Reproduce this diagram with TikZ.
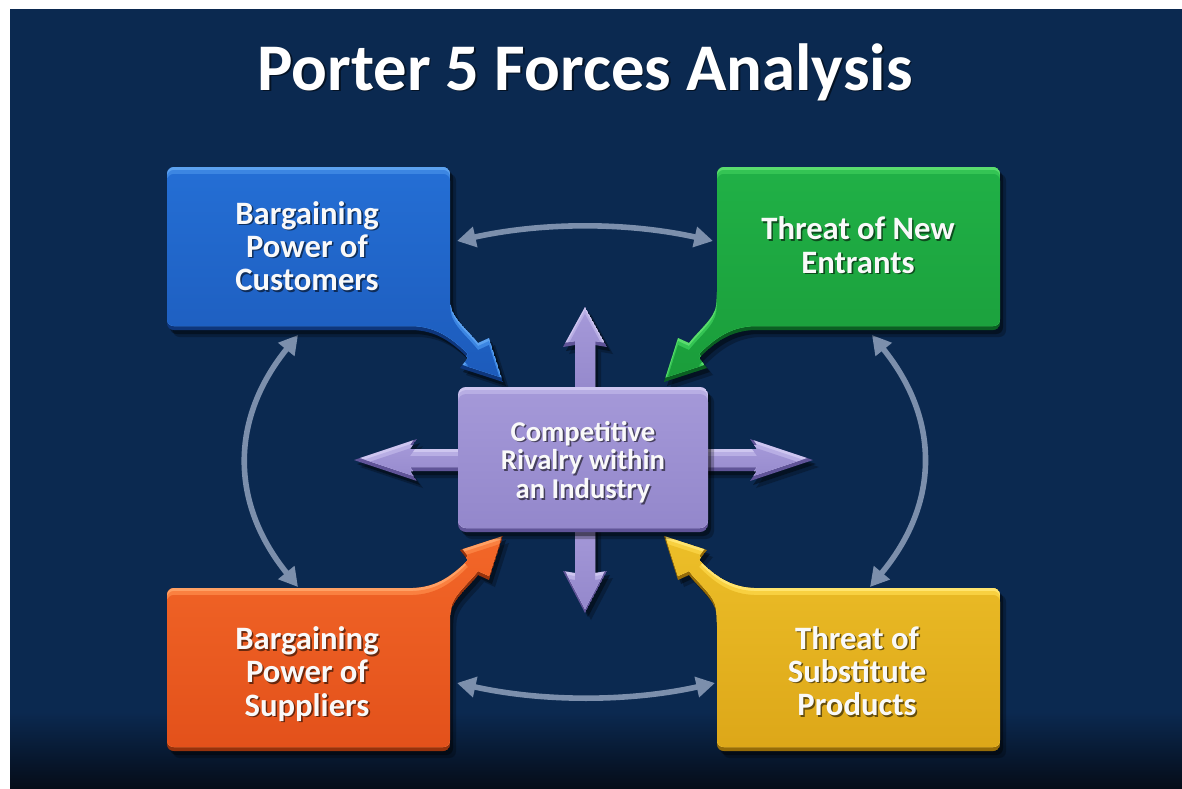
\documentclass[tikz,border=0pt]{standalone}
\usepackage{fontspec}
\setmainfont{Carlito}
\usetikzlibrary{arrows.meta}

% background and connector colours
\definecolor{bgnavy}{RGB}{11,41,80}
\definecolor{bgdeep}{RGB}{5,12,24}
\definecolor{linkgray}{RGB}{124,143,172}
% palettes: hi/mid = upper bevel, top/bot = body shading, rim = lower bevel
\definecolor{bluehi}{RGB}{92,162,240}
\definecolor{bluemid}{RGB}{60,134,226}
\definecolor{bluetop}{RGB}{36,110,212}
\definecolor{bluebot}{RGB}{28,90,186}
\definecolor{bluerim}{RGB}{14,54,124}
\definecolor{greenhi}{RGB}{90,220,110}
\definecolor{greenmid}{RGB}{52,196,84}
\definecolor{greentop}{RGB}{32,176,70}
\definecolor{greenbot}{RGB}{26,156,58}
\definecolor{greenrim}{RGB}{10,96,34}
\definecolor{orangehi}{RGB}{255,160,100}
\definecolor{orangemid}{RGB}{250,128,64}
\definecolor{orangetop}{RGB}{242,102,40}
\definecolor{orangebot}{RGB}{226,80,26}
\definecolor{orangerim}{RGB}{150,50,12}
\definecolor{yellowhi}{RGB}{255,228,110}
\definecolor{yellowmid}{RGB}{248,208,64}
\definecolor{yellowtop}{RGB}{236,190,40}
\definecolor{yellowbot}{RGB}{220,166,24}
\definecolor{yellowrim}{RGB}{150,108,8}
\definecolor{purplehi}{RGB}{206,198,240}
\definecolor{purplemid}{RGB}{184,174,228}
\definecolor{purpletop}{RGB}{164,152,216}
\definecolor{purplebot}{RGB}{146,134,202}
\definecolor{purplerim}{RGB}{96,84,152}

% point of a callout in local coordinates measured from its inner corner:
% a runs towards the centre horizontally, b towards the centre vertically
\def\cpt(#1,#2){({\cox+(\csx)*(#1)},{\coy+(\csy)*(#2)})}
\def\calloutpath{\cpt(-140,-163) [rounded corners=5pt] -- \cpt(0,-163) -- \cpt(0,-32)
  [sharp corners] .. controls \cpt(2,-12) and \cpt(18,0) .. \cpt(28,13)
  -- \cpt(39,8) -- \cpt(53,52) -- \cpt(10,38) -- \cpt(18,28)
  .. controls \cpt(0,10) and \cpt(-15,1) .. \cpt(-37,0) -- \cpt(-200,0)
  [rounded corners=5pt] -- \cpt(-283,0) -- \cpt(-283,-163) -- cycle}

% outlines of the central cross
\def\uppath{(575,-398) -- (575,-345) -- (563,-347) -- (585,-307) -- (607,-347) -- (595,-345) -- (595,-398) -- cycle}
\def\downpath{(575,-520) -- (575,-573) -- (563,-571) -- (585,-613) -- (607,-571) -- (595,-573) -- (595,-520) -- cycle}
\def\rightpath{(700,-449) -- (757,-449) -- (750,-439) -- (813,-460) -- (750,-481) -- (757,-471) -- (700,-471) -- cycle}
\def\leftpath{(467,-449) -- (410,-449) -- (417,-439) -- (354,-460) -- (417,-481) -- (410,-471) -- (467,-471) -- cycle}
\def\hubpath{[rounded corners=6pt] (458,-387) rectangle (708,-532)}

% bevelled fill with a drop shadow: #1 path, #2 palette
\newcommand\bevelfill[2]{%
  \fill[black,opacity=.25,shift={(6,-7)}] #1;
  \fill[black,opacity=.4,shift={(3,-4)}] #1;
  \begin{scope}
    \clip #1;
    \fill[#2rim] #1;
    \clip[shift={(0,4)}] #1;
    \fill[#2hi] #1;
    \fill[#2mid,shift={(0,-3)}] #1;
    \shade[top color=#2top,bottom color=#2bot,shift={(0,-7)}] #1;
  \end{scope}}

% label with a soft dark shadow: name, x, y, style, text
\newcommand\shadowed[5]{%
  \node[#4,textshadow] (#1-shadow) at ({#2+1.6},{#3-1.6}) {#5};
  \node[#4] (#1) at (#2,#3) {#5};}

\tikzset{
  boxtext/.style={text=white!95!gray, font=\bfseries\fontsize{24.5}{25}\selectfont, align=center, inner sep=0pt},
  hubtext/.style={boxtext, font=\bfseries\fontsize{21.5}{21.5}\selectfont},
  titletext/.style={text=white, font=\bfseries\fontsize{50}{60}\selectfont, inner sep=0pt, anchor=base},
  textshadow/.style={text=black, text opacity=.55},
  link/.style={draw=linkgray, line width=4.2pt,
    {Triangle[length=14pt,width=15pt]}-{Triangle[length=14pt,width=15pt]}}
}

\begin{document}
\begin{tikzpicture}[x=0.75pt,y=0.75pt]
\useasboundingbox (0,0) rectangle (1182,-789);
% backdrop
\fill[white] (0,0) rectangle (1182,-789);
\fill[bgnavy] (10,-9) rectangle (1182,-789);
\shade[top color=bgnavy, bottom color=bgdeep] (10,-712) rectangle (1182,-789);

% title
\shadowed{title}{585}{-90}{titletext}{Porter 5 Forces Analysis}

% links between the outer forces
\coordinate (cust-e) at (457,-241);
\coordinate (entr-w) at (713,-241);
\coordinate (supp-e) at (457,-683);
\coordinate (subs-w) at (715,-683);
\coordinate (cust-s) at (298,-335);
\coordinate (supp-n) at (298,-587);
\coordinate (entr-s) at (872,-335);
\coordinate (subs-n) at (870,-587);
\draw[link] (cust-e) .. controls (543,-222) and (627,-222) .. (entr-w);
\draw[link] (supp-e) .. controls (543,-702) and (629,-702) .. (subs-w);
\draw[link] (cust-s) .. controls (230,-419) and (230,-503) .. (supp-n);
\draw[link] (entr-s) .. controls (940,-419) and (940,-503) .. (subs-n);

% the four callouts
\def\cox{450}\def\coy{-330}\def\csx{1}\def\csy{-1}
\bevelfill{\calloutpath}{blue}
\def\cox{717}\def\coy{-330}\def\csx{-1}\def\csy{-1}
\bevelfill{\calloutpath}{green}
\def\cox{450}\def\coy{-588}\def\csx{1}\def\csy{1}
\bevelfill{\calloutpath}{orange}
\def\cox{717}\def\coy{-588}\def\csx{-1}\def\csy{1}
\bevelfill{\calloutpath}{yellow}

% central cross
\bevelfill{\uppath}{purple}
\bevelfill{\downpath}{purple}
\bevelfill{\leftpath}{purple}
\bevelfill{\rightpath}{purple}
\bevelfill{\hubpath}{purple}

% labels
\shadowed{cust}{307}{-246}{boxtext}{Bargaining\\Power of\\Customers}
\shadowed{entr}{858}{-245}{boxtext}{Threat of New\\Entrants}
\shadowed{supp}{307}{-674}{boxtext}{Bargaining\\Power of\\Suppliers}
\shadowed{subs}{857}{-671}{boxtext}{Threat of\\Substitute\\Products}
\shadowed{hub}{583}{-462}{hubtext}{Competitive\\Rivalry within\\an Industry}
\end{tikzpicture}
\end{document}
